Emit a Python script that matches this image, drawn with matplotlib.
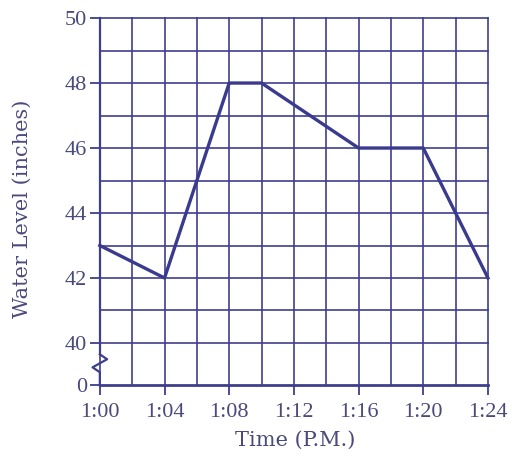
import matplotlib
matplotlib.use("Agg")
import matplotlib.pyplot as plt
import numpy as np

# Data
minutes = [0, 4, 8, 10, 16, 20, 24]
levels = [43, 42, 48, 48, 46, 46, 42]
xtick_vals = [0, 4, 8, 12, 16, 20, 24]
xtick_labels = ["1:00", "1:04", "1:08", "1:12", "1:16", "1:20", "1:24"]
ytick_vals = [40, 42, 44, 46, 48, 50]
ytick_labels = ["40", "42", "44", "46", "48", "50"]

BASE = 38.7  # position representing 0 after the axis break
GRID = "#3e3e8e"
LINE = "#3a3a8f"
TEXT = "#4a4a7c"

plt.rcParams['font.family'] = ['Liberation Serif', 'DejaVu Serif']

fig = plt.figure(figsize=(5.12, 4.63), dpi=100)
ax = fig.add_axes([0.195, 0.168, 0.758, 0.793])
ax.set_xlim(0, 24)
ax.set_ylim(BASE, 50)

# grid
for x in range(0, 25, 2):
    ax.plot([x, x], [BASE, 50], color=GRID, lw=1.2, zorder=1, clip_on=False)
for y in range(40, 51):
    ax.plot([0, 24], [y, y], color=GRID, lw=1.2, zorder=1, clip_on=False)

# bottom axis
ax.plot([0, 24], [BASE, BASE], color=GRID, lw=2.0, zorder=2, clip_on=False)
# left spine with break zigzag
ax.plot([0, 0], [50, 39.65], color=GRID, lw=1.6, zorder=2, clip_on=False)
ax.plot([0, 0.45, -0.45, 0, 0], [39.65, 39.5, 39.25, 39.1, BASE],
        color=GRID, lw=1.6, zorder=2, clip_on=False)

for s in ax.spines.values():
    s.set_visible(False)

# data line
ax.plot(minutes, levels, color=LINE, lw=2.4, zorder=3, clip_on=False)

ax.set_xticks(xtick_vals)
ax.set_xticklabels(xtick_labels)
ax.set_yticks([BASE] + ytick_vals)
ax.set_yticklabels(["0"] + ytick_labels)
ax.tick_params(axis='both', colors=GRID, labelcolor=TEXT, labelsize=16,
               length=7, width=1.3, direction='out')
ax.tick_params(axis='x', pad=6)
ax.tick_params(axis='y', pad=2)

lab_font = dict(color=TEXT, fontsize=15, family=['DejaVu Serif'])
fig.text(0.576, 0.050, "Time (P.M.)", ha='center', va='center', **lab_font)
fig.text(0.043, 0.55, "Water Level (inches)", ha='center', va='center',
         rotation=90, **lab_font)

fig.savefig("out.png", dpi=100, facecolor="white")
